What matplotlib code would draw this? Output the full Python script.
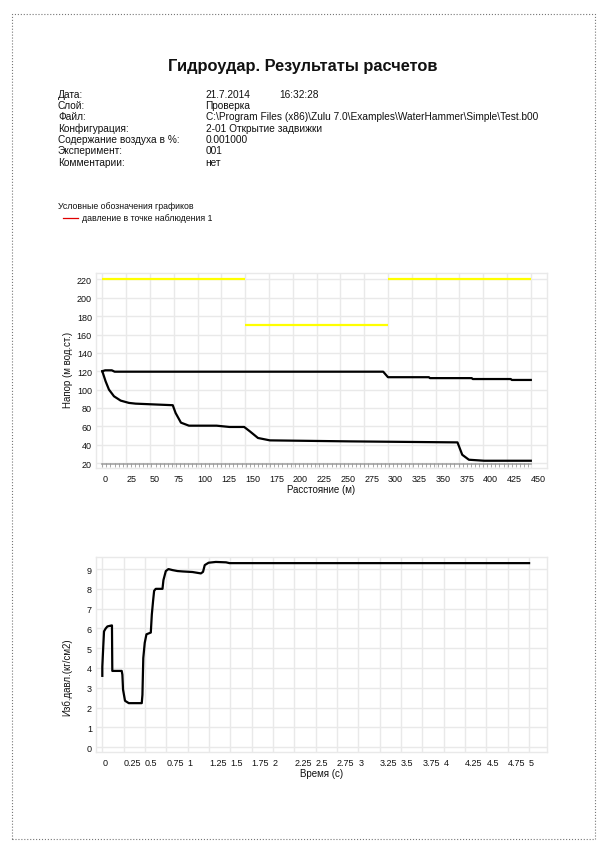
import numpy as np
import matplotlib.pyplot as plt
from matplotlib.patches import Rectangle
from matplotlib.lines import Line2D
from matplotlib.ticker import FormatStrFormatter

plt.rcParams['font.family'] = ['Liberation Sans', 'DejaVu Sans']

# Header info
title = "Гидроудар. Результаты расчетов"
info_keys = ["Дата:", "Слой:", "Файл:", "Конфигурация:", "Содержание воздуха в %:",
             "Эксперимент:", "Комментарии:"]
info_vals = ["21.7.2014", "Проверка",
             r"C:\Program Files (x86)\Zulu 7.0\Examples\WaterHammer\Simple\Test.b00",
             "2-01 Открытие задвижки", "0.001000", "001", "нет"]
info_time = "16:32:28"

# Chart 1: head along pipe
yellow_x = [[0, 150], [150, 300], [300, 450]]
yellow_y = [[220, 220], [170, 170], [220, 220]]

upper_x = [0, 3, 10, 13, 295, 300, 343, 344, 388, 389, 429, 430, 450]
upper_y = [120, 121, 121, 119.5, 119.5, 113.5, 113.5, 112.5, 112.5, 111.5, 111.5, 110.5, 110.5]

lower_x = [0, 3.5, 7, 12.3, 19.3, 28, 35, 60, 74, 77, 82.6, 91, 120, 133.6, 149,
           155, 163.5, 176, 260, 373, 378, 385, 401, 450]
lower_y = [120, 109, 100, 92.7, 88, 85.5, 84.7, 83.6, 83, 74.5, 64, 60.7, 60.7, 59.3, 59.3,
           54.5, 47.3, 44.7, 43.6, 42.5, 29, 23.6, 22.5, 22.5]

pipe_x = [0, 450]
pipe_y = [19.5, 19.5]

# Chart 2: pressure at observation point over time
t = [0, 0, 0.012, 0.02, 0.04, 0.06, 0.11, 0.113, 0.117, 0.227, 0.235, 0.243, 0.266, 0.31,
     0.462, 0.47, 0.48, 0.497, 0.517, 0.568, 0.58, 0.595, 0.607, 0.626, 0.705, 0.716, 0.744,
     0.775, 0.82, 0.88, 0.94, 1.057, 1.155, 1.18, 1.2, 1.245, 1.33, 1.45, 1.49, 5.0]
p = [3.6, 4.06, 5.17, 5.85, 6.0, 6.1, 6.15, 6.15, 3.85, 3.85, 3.66, 2.9, 2.34, 2.22,
     2.22, 2.64, 4.5, 5.27, 5.7, 5.79, 6.7, 7.4, 7.9, 8.0, 8.0, 8.44, 8.9,
     9.0, 8.95, 8.9, 8.88, 8.85, 8.78, 8.86, 9.2, 9.32, 9.36, 9.34, 9.3, 9.3]

W, H = 605, 854
fig = plt.figure(figsize=(W / 100, H / 100), dpi=100)


def fx(x):
    return x / W


def fy(y):
    return 1 - y / H


# page border
fig.patches.append(Rectangle((fx(12), fy(840)), fx(595) - fx(12), fy(15) - fy(840),
                             transform=fig.transFigure, fill=False, ec='#777777',
                             lw=0.8, ls=':'))

txt = '#111111'
fig.text(fx(303), fy(67), title, ha='center', va='center', fontsize=11.8,
         fontweight='bold', color=txt)
for i, (k, v) in enumerate(zip(info_keys, info_vals)):
    y = 94.5 + i * 11.35
    fig.text(fx(58), fy(y), k, ha='left', va='center', fontsize=7.3, color=txt)
    fig.text(fx(205.5), fy(y), v, ha='left', va='center', fontsize=7.3, color=txt)
fig.text(fx(279), fy(94.5), info_time, ha='left', va='center', fontsize=7.3, color=txt)

fig.text(fx(58), fy(207), "Условные обозначения графиков", ha='left', va='center',
         fontsize=6.3, color=txt)
fig.add_artist(Line2D([fx(63), fx(78)], [fy(219), fy(219)], color='#e00000', lw=0.9,
                      transform=fig.transFigure))
fig.text(fx(81.5), fy(219), "давление в точке наблюдения 1", ha='left', va='center',
         fontsize=6.3, color=txt)

grid_c = '#e9e9e9'


def style(ax):
    ax.grid(True, color=grid_c, lw=1)
    ax.set_axisbelow(True)
    for s in ax.spines.values():
        s.set_color(grid_c)
        s.set_linewidth(1)
    ax.tick_params(axis='both', length=0, labelsize=6.5, colors=txt)
    ax.tick_params(axis='y', pad=3)
    ax.tick_params(axis='x', pad=4)
    for lab in ax.get_xticklabels():
        lab.set_horizontalalignment('left')


# top chart
ax1 = fig.add_axes([fx(96), fy(469), fx(547) - fx(96), fy(274) - fy(469)])
for xs, ys in zip(yellow_x, yellow_y):
    ax1.plot(xs, ys, color='#ffff00', lw=1.6, solid_capstyle='butt')
ax1.plot(pipe_x, pipe_y, color='#aaaaaa', lw=1.3)
pipe_ticks = np.arange(0, 451, 4.3)
ax1.plot(pipe_ticks, np.full(len(pipe_ticks), 18.2),
         ls='none', marker='|', ms=2.5, mew=0.6, color='#999999')
ax1.plot(upper_x, upper_y, color='black', lw=1.6)
ax1.plot(lower_x, lower_y, color='black', lw=1.6)
ax1.set_xlim(-6.6, 467)
ax1.set_ylim(14.6, 227)
ax1.set_xticks(np.arange(0, 451, 25))
ax1.set_yticks(np.arange(20, 221, 20))
style(ax1)
ax1.set_xlabel("Расстояние (м)", fontsize=7, color=txt, labelpad=1)
ax1.set_ylabel("Напор (м вод.ст.)", fontsize=7, color=txt)
ax1.yaxis.set_label_coords(-0.052, 0.51)

# bottom chart
ax2 = fig.add_axes([fx(96), fy(753), fx(547) - fx(96), fy(558) - fy(753)])
ax2.plot(t, p, color='black', lw=1.6)
ax2.set_xlim(-0.074, 5.21)
ax2.set_ylim(-0.25, 9.61)
ax2.set_xticks(np.arange(0, 5.01, 0.25))
ax2.set_yticks(np.arange(0, 10, 1))
ax2.xaxis.set_major_formatter(FormatStrFormatter('%g'))
style(ax2)
ax2.set_xlabel("Время (с)", fontsize=7, color=txt, labelpad=1)
ax2.set_ylabel("Изб.давл.(кг/см2)", fontsize=7, color=txt)
ax2.yaxis.set_label_coords(-0.052, 0.39)

fig.savefig('out.png', dpi=100)
